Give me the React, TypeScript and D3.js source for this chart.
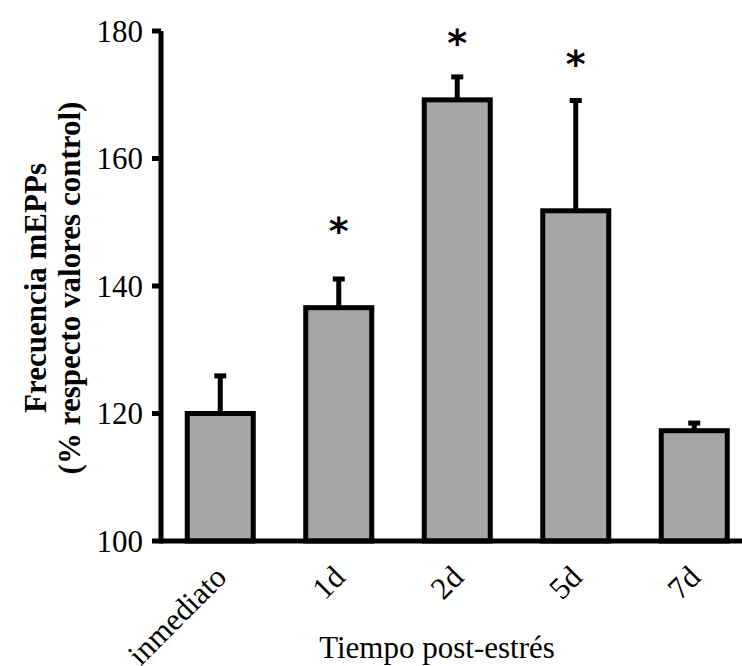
import React, { useRef, useEffect } from "react";
import * as d3 from "d3";

// data
const categories = ["inmediato", "1d", "2d", "5d", "7d"];
const means = [120, 136.6, 169.2, 151.8, 117.3];
const errTop = [125.9, 141.1, 172.8, 169.1, 118.5];
const starAt = [null, 150, 179.5, 176.2, null];
const yTicks = [100, 120, 140, 160, 180];

const W = 742, H = 666;
const serif = "'Liberation Serif', 'Times New Roman', serif";

export default function App() {
  const ref = useRef<SVGSVGElement | null>(null);

  useEffect(() => {
    const svg = d3.select(ref.current);
    svg.selectAll("*").remove();

    const left = 161, right = 753.5, top = 31, bottom = 541;

    const x = d3.scaleBand()
      .domain(categories)
      .range([left, right])
      .paddingInner(0.443)
      .paddingOuter(0.2215);
    const y = d3.scaleLinear().domain([100, 180]).range([bottom, top]);

    // error bars (behind bars)
    const eb = svg.append("g");
    categories.forEach((c, i) => {
      const cx = x(c)! + x.bandwidth() / 2;
      eb.append("line")
        .attr("x1", cx).attr("x2", cx)
        .attr("y1", y(means[i])).attr("y2", y(errTop[i]))
        .attr("stroke", "#000").attr("stroke-width", 5);
      eb.append("line")
        .attr("x1", cx - 6).attr("x2", cx + 6)
        .attr("y1", y(errTop[i])).attr("y2", y(errTop[i]))
        .attr("stroke", "#000").attr("stroke-width", 5);
    });

    // bars
    svg.append("g")
      .selectAll("rect")
      .data(categories)
      .enter()
      .append("rect")
      .attr("x", (d) => x(d)!)
      .attr("width", x.bandwidth())
      .attr("y", (d, i) => y(means[i]))
      .attr("height", (d, i) => y(100) - y(means[i]))
      .attr("fill", "#a6a6a6")
      .attr("stroke", "#000")
      .attr("stroke-width", 5);

    // axes
    svg.append("line")
      .attr("x1", left).attr("x2", W + 5)
      .attr("y1", bottom).attr("y2", bottom)
      .attr("stroke", "#000").attr("stroke-width", 5);
    svg.append("line")
      .attr("x1", left).attr("x2", left)
      .attr("y1", top).attr("y2", bottom + 2.5)
      .attr("stroke", "#000").attr("stroke-width", 5);

    const yt = svg.append("g");
    yTicks.forEach((t) => {
      yt.append("line")
        .attr("x1", left - 9).attr("x2", left)
        .attr("y1", y(t)).attr("y2", y(t))
        .attr("stroke", "#000").attr("stroke-width", 5);
      yt.append("text")
        .attr("x", left - 18)
        .attr("y", y(t))
        .attr("dy", "0.35em")
        .attr("text-anchor", "end")
        .style("font-family", serif)
        .style("font-size", "31px")
        .text(t);
    });

    // category labels, rotated
    categories.forEach((c) => {
      const cx = x(c)! + x.bandwidth() / 2;
      svg.append("text")
        .attr("transform", `translate(${cx + 8},${bottom + 38}) rotate(-45)`)
        .attr("text-anchor", "end")
        .style("font-family", serif)
        .style("font-size", "31px")
        .text(c);
    });

    // significance marks
    categories.forEach((c, i) => {
      if (starAt[i] == null) return;
      const cx = x(c)! + x.bandwidth() / 2;
      svg.append("text")
        .attr("x", cx)
        .attr("y", y(starAt[i] as number) + 22)
        .attr("text-anchor", "middle")
        .style("font-family", "'DejaVu Sans', sans-serif")
        .style("font-size", "38px")
        .style("font-weight", "bold")
        .text("*");
    });

    // axis titles
    svg.append("text")
      .attr("x", 437)
      .attr("y", 658)
      .attr("text-anchor", "middle")
      .style("font-family", serif)
      .style("font-size", "31px")
      .text("Tiempo post-estrés");

    const yt2 = svg.append("text")
      .attr("transform", "translate(0,288) rotate(-90)")
      .attr("text-anchor", "middle")
      .style("font-family", serif)
      .style("font-size", "31px")
      .style("font-weight", "bold");
    yt2.append("tspan").attr("x", 0).attr("y", 46).text("Frecuencia mEPPs");
    yt2.append("tspan").attr("x", 0).attr("y", 80).text("(% respecto valores control)");
  }, []);

  return (
    <svg
      ref={ref}
      width={W}
      height={H}
      style={{ position: "absolute", left: 0, top: 0, background: "#fff" }}
    />
  );
}
